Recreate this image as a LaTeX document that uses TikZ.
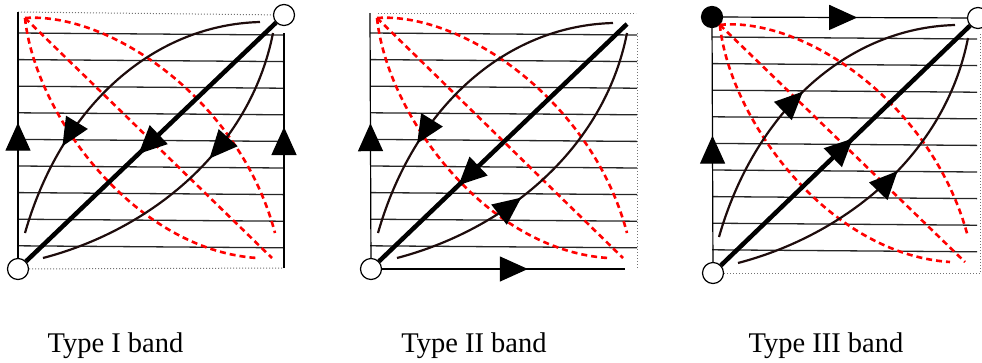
\documentclass[tikz,border=0pt]{standalone}
\usepackage{fontspec}
\setmainfont{Liberation Serif}
\usetikzlibrary{arrows.meta, decorations.markings}
\definecolor{flowc}{RGB}{30,12,12}
\tikzset{
  ovtx/.style={draw, circle, fill=white, line width=1.2pt, minimum size=21pt, inner sep=0pt},
  fvtx/.style={ovtx, fill=black},
  hln/.style={line width=1.3pt, black!85},
  edge/.style={line width=1.2pt},
  frame/.style={line width=1pt, dotted, black!55},
  flow/.style={line width=2.2pt, flowc},
  diag/.style={line width=4.5pt},
  redd/.style={red, line width=2.6pt, dash pattern=on 6pt off 4pt},
  tri/.tip={Triangle[length=28pt, width=25pt]},
  fwd/.style={postaction={decorate, decoration={markings,
      mark=at position #1 with {\arrow[black]{tri}}}}},
  bwd/.style={postaction={decorate, decoration={markings,
      mark=at position #1 with {\arrowreversed[black]{tri}}}}},
  lbl/.style={anchor=base, font=\fontsize{28.5}{30}\selectfont},
}

\begin{document}
\begin{tikzpicture}[x=1pt, y=-1pt]
\useasboundingbox (0,0) rectangle (982,362);

% Type I
\begin{scope}
  \foreach \k in {0,...,8} \draw[hln] (18,33+26.6*\k) -- (283,35+26.6*\k);
  \node[ovtx] (o1) at (18,269) {};
  \node[ovtx] (t1) at (284,15) {};
  \coordinate (tl1) at (18,12); \coordinate (rt1) at (284,33); \coordinate (br1) at (284,268);
  \coordinate (ua1) at (25,233); \coordinate (ub1) at (260,22);
  \coordinate (la1) at (43,258); \coordinate (lb1) at (273,33);
  \coordinate (ra1) at (25,18);  \coordinate (rb1) at (272,258);
  \coordinate (rc1) at (275,233); \coordinate (rd1) at (257,258);
  \draw[redd] (ra1) -- (rb1);
  \draw[redd] (ra1) .. controls +(85,-6) and +(-35,-133) .. (rc1);
  \draw[redd] (ra1) .. controls +(10,97) and +(-122,-8) .. (rd1);
  \draw[flow, bwd=0.28] (ua1) .. controls +(35,-123) and +(-110,3) .. (ub1);
  \draw[flow, bwd=0.58] (la1) .. controls +(107,-28) and +(-23,117) .. (lb1);
  \draw[diag, bwd=0.45] (o1) -- (t1);
  \draw[frame] (tl1) -- (t1);
  \draw[frame] (o1) -- (br1);
  \draw[edge, fwd=0.55] (o1) -- (tl1);
  \draw[edge, fwd=0.6] (br1) -- (rt1);
  \node[lbl] (n1) at (115.5,352) {Type I band};
\end{scope}

% Type II
\begin{scope}[shift={(352,0)}]
  \foreach \k in {0,...,8} \draw[hln] (18,33+26.6*\k) -- (285,35+26.6*\k);
  \node[ovtx] (o2) at (19,269) {};
  \coordinate (tl2) at (26,13); \coordinate (tr2) at (284,13);
  \coordinate (lt2) at (18,13);
  \coordinate (rt2) at (285,33); \coordinate (br2) at (285,269); \coordinate (bt2) at (273,269);
  \coordinate (dg2) at (275,24);
  \coordinate (ua2) at (26,233); \coordinate (ub2) at (261,23);
  \coordinate (la2) at (45,258); \coordinate (lb2) at (275,33);
  \coordinate (ra2) at (25,18);  \coordinate (rb2) at (271,258);
  \coordinate (rc2) at (275,233); \coordinate (rd2) at (256,258);
  \draw[redd] (ra2) -- (rb2);
  \draw[redd] (ra2) .. controls +(85,-6) and +(-35,-133) .. (rc2);
  \draw[redd] (ra2) .. controls +(10,97) and +(-122,-8) .. (rd2);
  \draw[flow, bwd=0.29] (ua2) .. controls +(35,-123) and +(-110,3) .. (ub2);
  \draw[flow, fwd=0.41] (la2) .. controls +(107,-28) and +(-23,117) .. (lb2);
  \draw[diag, bwd=0.32] (o2) -- (dg2);
  \draw[frame] (tl2) -- (tr2);
  \draw[frame] (rt2) -- (br2);
  \draw[edge, fwd=0.55] (o2) -- (lt2);
  \draw[edge, fwd=0.6] (o2) -- (bt2);
  \node[lbl] (n2) at (122,352) {Type II band};
\end{scope}

% Type III
\begin{scope}[shift={(694,4)}]
  \foreach \k in {0,...,8} \draw[hln] (18,33+26.6*\k) -- (283,35+26.6*\k);
  \node[ovtx] (o3) at (19,269) {};
  \node[fvtx] (s3) at (18,13) {};
  \node[ovtx] (t3) at (284,14) {};
  \coordinate (rt3) at (286,30); \coordinate (br3) at (286,269);
  \coordinate (ua3) at (25,233); \coordinate (ub3) at (261,21);
  \coordinate (la3) at (44,259); \coordinate (lb3) at (274,34);
  \coordinate (rb3) at (271,258);
  \coordinate (rc3) at (274,233); \coordinate (rd3) at (256,258);
  \draw[redd] (s3.south east) -- (rb3);
  \draw[redd] (s3.south east) .. controls +(85,-8) and +(-35,-133) .. (rc3);
  \draw[redd] (s3.south east) .. controls +(10,95) and +(-122,-8) .. (rd3);
  \draw[flow, fwd=0.5] (ua3) .. controls +(35,-123) and +(-110,3) .. (ub3);
  \draw[flow, fwd=0.55] (la3) .. controls +(107,-28) and +(-23,117) .. (lb3);
  \draw[diag, fwd=0.53] (o3) -- (t3);
  \draw[frame] (o3) -- (br3);
  \draw[frame] (rt3) -- (br3);
  \draw[edge, fwd=0.55] (s3) -- (t3);
  \draw[edge, fwd=0.54] (o3) -- (s3);
  \node[lbl] (n3) at (132,348) {Type III band};
\end{scope}
\end{tikzpicture}
\end{document}
